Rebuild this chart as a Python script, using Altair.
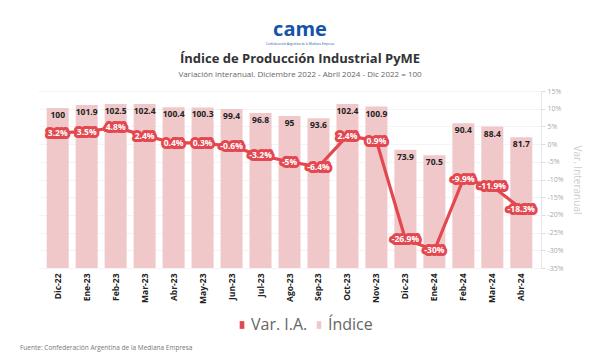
import altair as alt
import pandas as pd

months = ["Dic-22", "Ene-23", "Feb-23", "Mar-23", "Abr-23", "May-23", "Jun-23", "Jul-23",
          "Ago-23", "Sep-23", "Oct-23", "Nov-23", "Dic-23", "Ene-24", "Feb-24", "Mar-24", "Abr-24"]
indice = [100, 101.9, 102.5, 102.4, 100.4, 100.3, 99.4, 96.8, 95, 93.6, 102.4, 100.9,
          73.9, 70.5, 90.4, 88.4, 81.7]
var_ia = [3.2, 3.5, 4.8, 2.4, 0.4, 0.3, -0.6, -3.2, -5, -6.4, 2.4, 0.9,
          -26.9, -30, -9.9, -11.9, -18.3]
right_ticks = [15, 10, 5, 0, -5, -10, -15, -20, -25, -30, -35]
series = ["Var. I.A.", "Índice"]

df = pd.DataFrame({"mes": months, "indice": indice, "var": var_ia})

RED = "#e34850"
PINK = "#f0c8ca"
FONT = "Open Sans"

color_scale = alt.Scale(domain=series, range=[RED, PINK])

x_enc = alt.X("mes:N", sort=months, title=None,
              scale=alt.Scale(paddingInner=0.24, paddingOuter=0.3),
              axis=alt.Axis(labelAngle=-90, labelFontWeight="bold", labelFontSize=8.5,
                            labelColor="#222", labelPadding=5, ticks=False, domain=False,
                            grid=False, labelFont=FONT))

ybar = alt.Y("indice:Q", scale=alt.Scale(domain=[0, 110.6], nice=False, zero=True), axis=None)
yline_scale = alt.Scale(domain=[-35, 15], nice=False, zero=False)

base = alt.Chart(df)

bars = base.transform_calculate(serie=f"'{series[1]}'").mark_bar().encode(
    x=x_enc, y=ybar, color=alt.Color("serie:N", scale=color_scale, title=None))

bar_text = base.mark_text(baseline="top", dy=3, fontWeight="bold", fontSize=8.5,
                          color="#222", font=FONT).encode(
    x=alt.X("mes:N", sort=months), y=ybar, text=alt.Text("indice:Q"))

line = base.transform_calculate(serie=f"'{series[0]}'").mark_line(strokeWidth=3.2).encode(
    x=alt.X("mes:N", sort=months),
    y=alt.Y("var:Q", scale=yline_scale, title="Var. Interanual",
            axis=alt.Axis(orient="right", values=right_ticks, labelExpr="datum.value + '%'",
                          labelFontSize=7, labelColor="#aaa", tickColor="#ddd", tickSize=4,
                          domainColor="#e6e6e6", gridColor="#f4f4f4", grid=True,
                          titleColor="#ccc", titleFontSize=10, titleFontWeight="normal",
                          titlePadding=8, labelFont=FONT, titleFont=FONT)),
    color=alt.Color("serie:N", scale=color_scale, title=None))

yl = alt.Y("var:Q", scale=yline_scale, axis=None)
lab = base.transform_calculate(lbl="datum['var'] + '%'")
halo = lab.mark_text(fontSize=8.5, fontWeight="bold", stroke=RED, strokeWidth=6,
                     strokeJoin="round", fill=RED, font=FONT).encode(
    x=alt.X("mes:N", sort=months), y=yl, text="lbl:N")
lab_text = lab.mark_text(fontSize=8.5, fontWeight="bold", color="white", font=FONT).encode(
    x=alt.X("mes:N", sort=months), y=yl, text="lbl:N")

def deco(txt, x, y, size, color, weight="normal", align="center"):
    return alt.Chart(pd.DataFrame({"t": [txt]})).mark_text(
        fontSize=size, color=color, fontWeight=weight, align=align, font=FONT,
        baseline="middle").encode(text="t:N", x=alt.value(x), y=alt.value(y))

logo = deco("came", 262, -61, 20, "#1553a8", "bold")
logo_sub = deco("Confederación Argentina de la Mediana Empresa", 262, -47, 3, "#1553a8")
title = deco("Índice de Producción Industrial PyME", 262, -32, 13, "#333", "bold")
subtitle = deco("Variación interanual. Diciembre 2022 - Abril 2024 - Dic 2022 = 100",
                262, -16, 8, "#666")
footer = deco("Fuente: Confederación Argentina de la Mediana Empresa", -18, 257, 6.5, "#777",
              align="left")

chart = alt.layer(bars, bar_text, line, halo, lab_text, logo, logo_sub, title, subtitle, footer
).resolve_scale(y="independent").properties(
    width=503, height=177,
    autosize=alt.AutoSizeParams(type="none"),
    padding={"left": 30, "top": 83, "right": 51, "bottom": 84},
).configure_view(stroke=None).configure_legend(
    orient="none", legendX=196, legendY=226, direction="horizontal",
    labelFontSize=16, labelColor="#666", labelFont=FONT,
    symbolType="M-0.6,-1H0.6V1H-0.6Z", symbolSize=60, symbolStrokeWidth=0,
    columnPadding=3, labelOffset=1, padding=0
)

chart.save("out.html", embed_options={"renderer": "svg", "actions": False})
